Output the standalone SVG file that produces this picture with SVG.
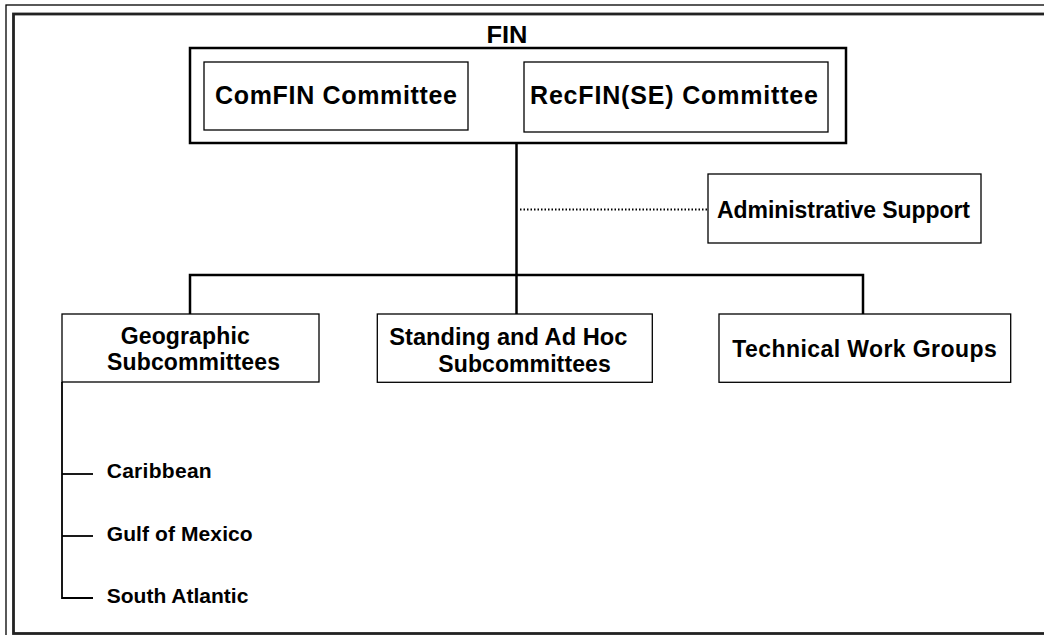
<svg xmlns="http://www.w3.org/2000/svg" width="1044" height="635" viewBox="0 0 1044 635">
<style>
.box{fill:#fff;stroke:#000;stroke-width:1.3}
.big{fill:#fff;stroke:#000;stroke-width:2.5}
.t{font-family:"Liberation Sans",Arial,sans-serif;font-weight:bold;fill:#000}
.l{font-size:23px}
.m{font-size:25px}
.s{font-size:21px}
.c{fill:none;stroke:#000;stroke-width:2.5}
.b{fill:none;stroke:#000;stroke-width:1.8}
</style>
<rect x="0" y="0" width="1044" height="635" fill="#fff"/>
<g id="frame">
<rect x="6" y="5" width="1100" height="700" fill="none" stroke="#000" stroke-width="1.3"/>
<rect x="13.5" y="14" width="1100" height="619.5" fill="none" stroke="#222" stroke-width="2.8"/>
</g>
<g id="connectors">
<line class="c" x1="516.5" y1="143" x2="516.5" y2="275"/>
<polyline class="c" points="190,314 190,275 863,275 863,314"/>
<line class="c" x1="516.5" y1="275" x2="516.5" y2="314"/>
<line x1="520" y1="209.5" x2="707" y2="209.5" stroke="#000" stroke-width="2" stroke-dasharray="1.5 2"/>
<polyline class="b" points="62,382 62,598 93,598"/>
<line class="b" x1="62" y1="474" x2="93" y2="474"/>
<line class="b" x1="62" y1="536" x2="93" y2="536"/>
</g>
<g id="fin">
<rect class="big" x="190" y="48" width="656" height="95"/>
<text class="t" x="507" y="43" font-size="23" text-anchor="middle" textLength="41" lengthAdjust="spacingAndGlyphs">FIN</text>
</g>
<g id="comfin">
<rect class="box" x="204" y="62" width="264" height="68"/>
<text class="t m" x="215" y="104" textLength="242" lengthAdjust="spacing">ComFIN Committee</text>
</g>
<g id="recfin">
<rect class="box" x="524" y="62" width="304" height="70"/>
<text class="t m" x="530" y="104" textLength="288" lengthAdjust="spacing">RecFIN(SE) Committee</text>
</g>
<g id="admin">
<rect class="box" x="708" y="174" width="273" height="69"/>
<text class="t l" x="717" y="218" textLength="253" lengthAdjust="spacing">Administrative Support</text>
</g>
<g id="geographic">
<rect class="box" x="62" y="314" width="257" height="68"/>
<text class="t l" x="120.7" y="343.5" textLength="129" lengthAdjust="spacing">Geographic</text>
<text class="t l" x="107" y="369.5" textLength="173" lengthAdjust="spacing">Subcommittees</text>
</g>
<g id="standing">
<rect class="box" x="377.3" y="314" width="275" height="68.3"/>
<text class="t l" x="389.3" y="345" textLength="238" lengthAdjust="spacingAndGlyphs">Standing and Ad Hoc</text>
<text class="t l" x="438.3" y="372.3" textLength="172.4" lengthAdjust="spacing">Subcommittees</text>
</g>
<g id="technical">
<rect class="box" x="719" y="314" width="291.7" height="68.3"/>
<text class="t l" x="732.3" y="356.7" textLength="264.4" lengthAdjust="spacing">Technical Work Groups</text>
</g>
<g id="caribbean">
<text class="t s" x="106.7" y="478.3" textLength="105" lengthAdjust="spacing">Caribbean</text>
</g>
<g id="gulf">
<text class="t s" x="106.7" y="541" textLength="146" lengthAdjust="spacing">Gulf of Mexico</text>
</g>
<g id="south">
<text class="t s" x="106.7" y="602.7" textLength="141.7" lengthAdjust="spacing">South Atlantic</text>
</g>
</svg>
